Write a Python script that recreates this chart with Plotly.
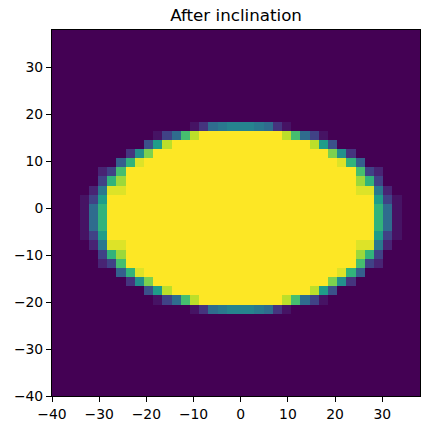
import numpy as np
import plotly.graph_objects as go

# Grid values, 40 rows (top to bottom) x 40 columns.
# '.' = 0, '1'..'9','A'..'J' = 1..19 twentieths, '#' = 1.0
EMPTY = "." * 40
rows_text = [EMPTY] * 10 + [
    "...............137899" + "98731" + "..............",
    "..........." + "147EI" + "#####" + "####" + "IE741" + "..........",
    ".........." + "5BI" + "########" + "#######" + "IB5" + ".........",
    "........" + "3AG" + "##########" + "#########" + "GA3" + ".......",
    "......." + "6DJ" + "###########" + "##########" + "JD6" + "......",
    "....." + "24E" + "#############" + "############" + "E42" + "....",
    "....." + "4DH" + "#############" + "############" + "HD4" + "....",
    "...." + "28JJ" + "#############" + "############" + "JJ82" + "...",
    "..." + "14B" + "###############" + "##############" + "B41" + "..",
    "..." + "17D" + "###############" + "##############" + "D71" + "..",
    "..." + "17D" + "###############" + "##############" + "D71" + "..",
    "..." + "17D" + "###############" + "##############" + "D71" + "..",
    "..." + "14B" + "###############" + "##############" + "B41" + "..",
    "...." + "28JJ" + "#############" + "############" + "JJ82" + "...",
    "....." + "4DH" + "#############" + "############" + "HD4" + "....",
    "....." + "24E" + "#############" + "############" + "E42" + "....",
    "......." + "6DJ" + "###########" + "##########" + "JD6" + "......",
    "........" + "3AG" + "##########" + "#########" + "GA3" + ".......",
    ".........." + "5BI" + "########" + "#######" + "IB5" + ".........",
    "..........." + "147EI" + "#####" + "####" + "IE741" + "..........",
    "...............137899" + "98731" + "..............",
] + [EMPTY] * 9

LEVELS = ".123456789ABCDEFGHIJ#"
extent = [-40, 38, -40, 38]
tick_vals = [-40, -30, -20, -10, 0, 10, 20, 30]
tick_text = ["\u221240", "\u221230", "\u221220", "\u221210", "0", "10", "20", "30"]
title_text = "After inclination"

z = np.array([[LEVELS.index(c) / 20.0 for c in r] for r in rows_text])
nrow, ncol = z.shape
dx = (extent[1] - extent[0]) / ncol
dy = (extent[3] - extent[2]) / nrow
xs = extent[0] + dx * (np.arange(ncol) + 0.5)
ys = extent[3] - dy * (np.arange(nrow) + 0.5)

fig = go.Figure(go.Heatmap(z=z, x=xs, y=ys, colorscale="Viridis", zmin=0, zmax=1,
                           showscale=False, hoverinfo="skip"))

axis_common = dict(showline=True, mirror=True, linecolor="black", linewidth=1,
                   ticks="outside", ticklen=5, tickwidth=1, tickcolor="black",
                   showgrid=False, zeroline=False, tickvals=tick_vals, ticktext=tick_text,
                   tickfont=dict(family="DejaVu Sans", size=13.9, color="black"))

fig.update_layout(
    width=428, height=429,
    margin=dict(l=52, r=7, t=30, b=30),
    paper_bgcolor="white", plot_bgcolor="white",
    title=dict(text=title_text, x=0.5515, xanchor="center", y=1 - 15.5 / 429, yanchor="middle",
               yref="container", font=dict(family="DejaVu Sans", size=16.7, color="black")),
    xaxis=dict(range=[extent[0], extent[1]], **axis_common),
    yaxis=dict(range=[extent[2], extent[3]], **axis_common),
)

fig.write_html("out.html")
